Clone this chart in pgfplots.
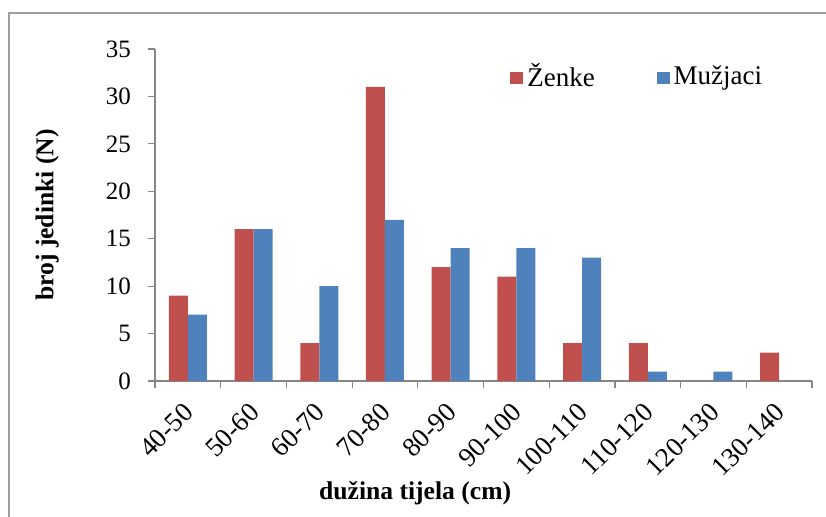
\documentclass[border=0pt]{standalone}
\usepackage{pgfplots}
\pgfplotsset{compat=1.18}
\usepackage{fontspec}
\setmainfont{Liberation Serif}
\definecolor{cred}{HTML}{C0504D}
\definecolor{cblue}{HTML}{4F81BD}
\definecolor{axgray}{HTML}{868686}
\begin{document}
\begin{tikzpicture}
\useasboundingbox (-77.5pt,-67.5pt) rectangle (335.5pt,190.5pt);
\draw[axgray!80, line width=0.7pt] (-73pt,-80pt) rectangle (345pt,184pt);
\begin{axis}[
  at={(0pt,0pt)}, anchor=south west,
  scale only axis, width=328.5pt, height=166pt,
  ybar=0pt, bar width=9.5pt,
  xmin=-0.5, xmax=9.5, ymin=0, ymax=35,
  ytick={0,5,...,35},
  xtick={0,...,9},
  xticklabels={40-50,50-60,60-70,70-80,80-90,90-100,100-110,110-120,120-130,130-140},
  minor xtick={-0.5,0.5,...,9.5},
  major x tick style={draw=none},
  minor tick length=3.5pt, major tick length=3.5pt,
  tick align=outside,
  tick style={axgray, line width=0.6pt},
  axis x line*=bottom, axis y line*=left,
  axis line style={axgray, line width=0.6pt, -},
  x axis line style={-}, y axis line style={-},
  tick label style={font=\fontsize{12.5}{14}\selectfont, black},
  /pgf/number format/assume math mode=true,
  xticklabel style={xshift=-2.8pt, yshift=-6.4pt, rotate=45, anchor=north east, inner sep=0pt, font=\fontsize{13.5}{15}\selectfont},
  yticklabel style={xshift=-5pt},
  ylabel={\textbf{broj jedinki (N)}},
  ylabel style={at={(axis description cs:-0.164,0.5)}, anchor=center, font=\fontsize{12.8}{14}\selectfont},
  xlabel={\textbf{dužina tijela (cm)}},
  xlabel style={at={(axis description cs:0.396,-0.337)}, anchor=center, font=\fontsize{12.8}{14}\selectfont},
  legend style={at={(axis description cs:0.531,0.918)}, anchor=west, draw=none, fill=none,
    font=\fontsize{13.5}{15}\selectfont, legend columns=2,
    /tikz/every even column/.append style={column sep=29pt}},
  legend image code/.code={\fill[#1] (0pt,-4pt) rectangle (6.5pt,2pt);},
  clip=false,
]
\addplot[fill=cred, draw=none] coordinates {(0,9) (1,16) (2,4) (3,31) (4,12) (5,11) (6,4) (7,4) (8,0) (9,3)};
\addplot[fill=cblue, draw=none] coordinates {(0,7) (1,16) (2,10) (3,17) (4,14) (5,14) (6,13) (7,1) (8,1) (9,0)};
\legend{Ženke,Mužjaci}
\end{axis}
\end{tikzpicture}
\end{document}
